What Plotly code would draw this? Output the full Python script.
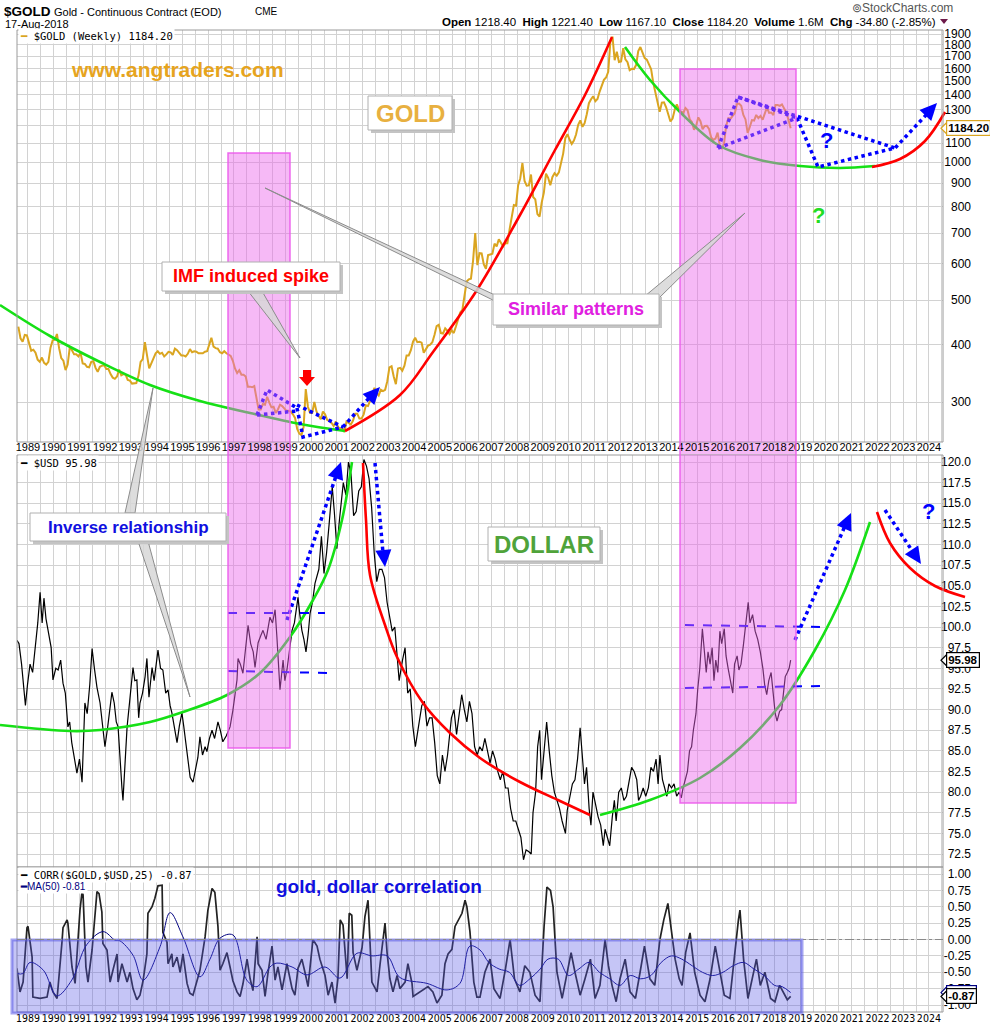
import math
import plotly.graph_objects as go

W, H = 990, 1029

# ------------------------------------------------------------------ data
GOLD_FIRST_YEAR, GOLD_FIRST_MONTH = 1988, 8
GOLD_MONTHLY = [
    438, 413, 406, 420, 419,
    404, 388, 390, 384, 371, 367, 375, 365, 362, 367, 394, 409,
    410, 422, 393, 374, 369, 352, 362, 395, 389, 381, 381, 377,
    384, 364, 363, 358, 357, 367, 368, 356, 349, 358, 360, 361,
    354, 354, 345, 339, 337, 341, 353, 343, 345, 344, 335, 334,
    329, 330, 330, 342, 367, 372, 405, 379, 355, 364, 373, 383,
    387, 382, 384, 377, 381, 386, 385, 380, 392, 389, 384, 379,
    379, 377, 382, 391, 385, 387, 386, 383, 383, 383, 386, 387,
    400, 414, 396, 393, 392, 385, 383, 387, 383, 381, 378, 369,
    355, 347, 352, 344, 344, 341, 324, 324, 323, 325, 306, 289,
    289, 297, 296, 308, 299, 292, 293, 284, 289, 296, 294, 291,
    287, 287, 286, 282, 277, 262, 256, 254, 265, 320, 293, 284,
    284, 300, 286, 280, 275, 286, 282, 274, 273, 270, 266, 272,
    265, 262, 263, 258, 272, 270, 268, 273, 283, 283, 276, 276,
    282, 295, 294, 302, 314, 322, 314, 310, 319, 317, 319, 333,
    357, 359, 341, 328, 355, 356, 351, 360, 379, 379, 389, 406,
    414, 405, 406, 404, 384, 392, 398, 400, 405, 420, 439, 442,
    424, 423, 434, 429, 422, 430, 424, 438, 456, 470, 476, 510,
    549, 555, 557, 610, 700, 596, 633, 632, 598, 585, 627, 629,
    631, 664, 655, 679, 667, 655, 665, 665, 712, 754, 806, 803,
    889, 922, 995, 909, 888, 889, 939, 839, 829, 770, 760, 816,
    858, 943, 924, 890, 928, 945, 934, 949, 996, 1043, 1127, 1150,
    1118, 1095, 1113, 1148, 1205, 1232, 1193, 1215, 1271, 1343, 1370, 1391,
    1356, 1372, 1424, 1474, 1510, 1528, 1572, 1826, 1875, 1666, 1739, 1652,
    1656, 1770, 1673, 1650, 1585, 1596, 1594, 1626, 1744, 1780, 1721, 1684,
    1671, 1627, 1593, 1487, 1414, 1343, 1286, 1347, 1349, 1316, 1275, 1225,
    1244, 1300, 1336, 1299, 1287, 1279, 1311, 1296, 1239, 1222, 1176, 1200,
    1251, 1227, 1179, 1198, 1199, 1181, 1131, 1117, 1125, 1159, 1086, 1068,
    1097, 1200, 1246, 1242, 1260, 1276, 1337, 1341, 1326, 1266, 1238, 1157,
    1192, 1234, 1231, 1266, 1246, 1260, 1236, 1283, 1315, 1280, 1282, 1265,
    1331, 1331, 1325, 1335, 1303, 1282, 1238, 1184.2,
]

USD_T = [
    1988.57, 1988.65, 1988.75, 1988.85, 1988.9, 1988.98, 1989.08, 1989.18, 1989.28, 1989.38,
    1989.47, 1989.55, 1989.62, 1989.7, 1989.78, 1989.9, 1989.97, 1990.08, 1990.17, 1990.27,
    1990.36, 1990.45, 1990.55, 1990.62, 1990.7, 1990.8, 1990.9, 1991.0, 1991.1, 1991.21,
    1991.3, 1991.4, 1991.49, 1991.58, 1991.68, 1991.8, 1991.9, 1991.99, 1992.1, 1992.18,
    1992.26, 1992.35, 1992.43, 1992.5, 1992.58, 1992.65, 1992.69, 1992.75, 1992.85, 1992.95,
    1993.08, 1993.15, 1993.23, 1993.3, 1993.35, 1993.45, 1993.55, 1993.62, 1993.7, 1993.82,
    1993.9, 1994.05, 1994.15, 1994.24, 1994.35, 1994.44, 1994.52, 1994.59, 1994.7, 1994.79,
    1994.88, 1994.98, 1995.05, 1995.1, 1995.2, 1995.3, 1995.41, 1995.5, 1995.6, 1995.68,
    1995.78, 1995.88, 1995.95, 1996.05, 1996.15, 1996.25, 1996.38, 1996.47, 1996.57, 1996.7,
    1996.85, 1996.96, 1997.05, 1997.12, 1997.16, 1997.25, 1997.35, 1997.45, 1997.55, 1997.65,
    1997.75, 1997.82, 1997.94, 1998.05, 1998.13, 1998.25, 1998.4, 1998.5, 1998.6, 1998.67,
    1998.79, 1998.91, 1998.98, 1999.06, 1999.15, 1999.26, 1999.35, 1999.49, 1999.56, 1999.64,
    1999.72, 1999.8, 1999.88, 1999.96, 2000.05, 2000.15, 2000.3, 2000.4, 2000.5, 2000.6,
    2000.7, 2000.82, 2000.9, 2001.0, 2001.1, 2001.25, 2001.35, 2001.45, 2001.55, 2001.65,
    2001.75, 2001.85, 2001.95, 2002.05, 2002.15, 2002.25, 2002.35, 2002.45, 2002.55, 2002.65,
    2002.75, 2002.85, 2002.95, 2003.05, 2003.15, 2003.25, 2003.35, 2003.42, 2003.55, 2003.65,
    2003.75, 2003.85, 2003.95, 2004.05, 2004.15, 2004.3, 2004.4, 2004.5, 2004.6, 2004.7,
    2004.8, 2004.9, 2005.0, 2005.1, 2005.2, 2005.3, 2005.45, 2005.55, 2005.65, 2005.75,
    2005.85, 2005.95, 2006.05, 2006.15, 2006.25, 2006.35, 2006.45, 2006.55, 2006.65, 2006.75,
    2006.85, 2006.95, 2007.05, 2007.15, 2007.25, 2007.35, 2007.45, 2007.55, 2007.65, 2007.75,
    2007.85, 2007.95, 2008.05, 2008.15, 2008.25, 2008.35, 2008.45, 2008.55, 2008.62, 2008.72,
    2008.8, 2008.88, 2008.95, 2009.05, 2009.15, 2009.25, 2009.35, 2009.45, 2009.55, 2009.65,
    2009.75, 2009.88, 2009.95, 2010.05, 2010.15, 2010.25, 2010.35, 2010.45, 2010.55, 2010.62,
    2010.7, 2010.8, 2010.87, 2010.95, 2011.05, 2011.15, 2011.25, 2011.35, 2011.42, 2011.5,
    2011.6, 2011.7, 2011.78, 2011.85, 2011.95, 2012.05, 2012.15, 2012.25, 2012.35, 2012.45,
    2012.55, 2012.65, 2012.72, 2012.8, 2012.9, 2013.0, 2013.1, 2013.2, 2013.3, 2013.4,
    2013.48, 2013.55, 2013.65, 2013.75, 2013.82, 2013.9, 2014.0, 2014.1, 2014.2, 2014.3,
    2014.38, 2014.45, 2014.55, 2014.62, 2014.7, 2014.78, 2014.85, 2014.95, 2015.02, 2015.1,
    2015.2, 2015.28, 2015.35, 2015.42, 2015.5, 2015.58, 2015.65, 2015.72, 2015.8, 2015.88,
    2015.95, 2016.05, 2016.12, 2016.2, 2016.3, 2016.38, 2016.45, 2016.55, 2016.62, 2016.7,
    2016.8, 2016.9, 2016.98, 2017.05, 2017.15, 2017.25, 2017.35, 2017.45, 2017.55, 2017.62,
    2017.7, 2017.78, 2017.87, 2017.95, 2018.03, 2018.1, 2018.2, 2018.28, 2018.35, 2018.42,
    2018.5, 2018.57, 2018.63,
]
USD_V = [
    98.4, 98.0, 95.5, 91.5, 90.5, 93.0, 95.5, 94.5, 97.5, 100.5,
    104.2, 100.5, 103.5, 101.0, 99.6, 97.5, 93.6, 95.0, 94.8, 96.0,
    93.2, 92.0, 87.9, 88.5, 86.0, 84.0, 82.3, 84.0, 81.2, 90.8,
    89.5, 93.0, 97.4, 95.0, 92.7, 90.8, 87.5, 85.5, 88.0, 90.5,
    92.1, 90.8, 88.5, 87.9, 83.0, 80.5, 79.0, 82.5, 87.9, 91.0,
    95.1, 93.5, 93.6, 89.0, 90.8, 92.0, 94.0, 96.2, 91.5, 95.1,
    93.5, 97.2, 95.0, 94.8, 92.0, 92.4, 90.5, 89.6, 87.5, 86.0,
    88.0, 89.6, 88.0, 86.7, 84.0, 81.8, 81.2, 82.5, 84.2, 86.7,
    84.5, 85.5, 84.9, 86.5, 87.5, 86.5, 88.5, 87.5, 86.1, 86.8,
    87.9, 89.9, 92.0, 93.6, 96.2, 95.5, 94.4, 97.0, 100.2, 98.0,
    97.0, 95.1, 98.1, 99.0, 99.6, 98.5, 101.2, 100.5, 102.1, 98.8,
    92.4, 96.0, 93.5, 94.8, 97.0, 99.6, 100.5, 103.6, 101.5, 99.6,
    98.5, 97.0, 99.0, 101.7, 103.0, 105.3, 107.0, 111.0, 106.5, 109.0,
    112.5, 117.0, 114.0, 109.5, 113.0, 117.5, 116.0, 120.0, 118.5, 113.5,
    114.0, 116.5, 117.0, 120.3, 119.5, 118.0, 114.5, 109.0, 105.5, 107.0,
    107.0, 106.0, 103.0, 101.0, 99.5, 100.0, 96.5, 93.5, 96.0, 97.5,
    92.0, 92.5, 88.0, 85.5, 87.5, 90.5, 91.0, 88.0, 89.0, 89.0,
    86.0, 82.0, 81.0, 84.5, 82.5, 84.5, 89.0, 90.0, 87.0, 89.5,
    91.8, 90.0, 88.5, 91.0, 89.5, 85.5, 84.5, 85.5, 85.0, 86.5,
    85.0, 83.5, 85.0, 84.0, 82.5, 81.5, 82.5, 80.5, 80.5, 78.0,
    76.5, 76.5, 75.5, 74.5, 71.8, 73.0, 72.8, 72.5, 77.5, 80.0,
    85.5, 87.5, 81.5, 85.5, 88.5, 85.0, 82.0, 80.0, 79.0, 78.0,
    76.5, 75.0, 77.8, 79.5, 81.0, 81.5, 84.0, 87.8, 84.0, 81.0,
    83.0, 78.0, 76.0, 80.0, 78.5, 77.0, 76.0, 73.5, 75.5, 74.5,
    73.5, 77.0, 79.0, 76.5, 80.0, 80.5, 79.0, 79.5, 81.5, 83.0,
    82.5, 81.5, 79.0, 79.5, 80.5, 79.5, 80.5, 83.0, 82.5, 84.0,
    81.0, 84.5, 81.5, 80.5, 79.5, 81.0, 80.5, 81.0, 79.5, 80.0,
    79.3, 80.5, 81.5, 82.5, 85.0, 85.5, 87.5, 89.5, 92.5, 95.0,
    99.8, 97.0, 94.5, 97.0, 95.5, 97.5, 93.5, 96.0, 94.5, 99.5,
    98.0, 99.8, 96.5, 95.0, 93.5, 92.0, 95.5, 96.5, 94.8, 95.5,
    98.0, 101.0, 103.0, 100.5, 101.5, 99.5, 98.5, 97.0, 95.0, 93.0,
    91.8, 93.5, 94.5, 92.0, 89.5, 88.6, 89.8, 90.0, 92.5, 94.0,
    94.5, 95.0, 95.98,
]

CORR_T = [
    1988.57, 1988.69, 1988.81, 1988.96, 1989.0, 1989.16, 1989.19, 1989.47, 1989.74, 1989.85,
    1989.97, 1990.13, 1990.32, 1990.36, 1990.52, 1990.55, 1990.71, 1990.83, 1991.02, 1991.1,
    1991.14, 1991.25, 1991.33, 1991.49, 1991.68, 1991.76, 1991.87, 1991.91, 1992.07, 1992.19,
    1992.3, 1992.46, 1992.5, 1992.65, 1992.85, 1992.96, 1993.08, 1993.23, 1993.35, 1993.47,
    1993.62, 1993.66, 1993.82, 1993.93, 1994.05, 1994.21, 1994.24, 1994.4, 1994.44, 1994.59,
    1994.63, 1994.79, 1994.91, 1995.02, 1995.18, 1995.29, 1995.41, 1995.57, 1995.68, 1995.88,
    1995.99, 1996.15, 1996.26, 1996.38, 1996.46, 1996.57, 1996.73, 1996.85, 1996.96, 1997.12,
    1997.24, 1997.35, 1997.51, 1997.63, 1997.74, 1997.9, 1997.94, 1998.09, 1998.21, 1998.32,
    1998.48, 1998.6, 1998.71, 1998.87, 1999.06, 1999.26, 1999.37, 1999.49, 1999.64, 1999.76,
    1999.88, 2000.07, 2000.23, 2000.34, 2000.54, 2000.66, 2000.81, 2000.93, 2001.04, 2001.13,
    2001.24, 2001.4, 2001.48, 2001.58, 2001.63, 2001.78, 2001.98, 2002.09, 2002.21, 2002.36,
    2002.56, 2002.68, 2002.87, 2002.95, 2003.06, 2003.18, 2003.34, 2003.45, 2003.65, 2003.76,
    2003.92, 2003.96, 2004.15, 2004.35, 2004.54, 2004.73, 2004.89, 2005.08, 2005.2, 2005.32,
    2005.47, 2005.59, 2005.71, 2005.86, 2005.98, 2006.05, 2006.17, 2006.32, 2006.44, 2006.56,
    2006.75, 2006.95, 2007.1, 2007.34, 2007.55, 2007.73, 2007.9, 2008.11, 2008.3, 2008.5,
    2008.7, 2008.89, 2009.05, 2009.16, 2009.3, 2009.4, 2009.55, 2009.75, 2009.9, 2010.1,
    2010.25, 2010.45, 2010.64, 2010.85, 2011.03, 2011.22, 2011.42, 2011.55, 2011.69, 2011.85,
    2012.0, 2012.2, 2012.39, 2012.6, 2012.78, 2012.95, 2013.16, 2013.35, 2013.55, 2013.7,
    2013.86, 2014.0, 2014.14, 2014.3, 2014.41, 2014.55, 2014.72, 2014.9, 2015.11, 2015.3,
    2015.5, 2015.7, 2015.88, 2016.05, 2016.27, 2016.45, 2016.6, 2016.66, 2016.8, 2016.97,
    2017.15, 2017.3, 2017.45, 2017.63, 2017.85, 2018.02, 2018.2, 2018.41, 2018.5, 2018.63,
]
CORR_V = [
    -0.44, -0.80, -0.65, 0.18, 0.20, -0.27, -0.88, -0.90, -0.88, -0.65,
    -0.80, -0.90, -0.04, 0.18, 0.30, 0.25, -0.42, -0.67, 0.45, 0.73,
    0.68, -0.42, -0.65, -0.16, 0.73, 0.70, 0.42, -0.06, -0.16, -0.65,
    -0.47, -0.22, -0.65, -0.37, -0.65, -0.50, -0.75, -0.92, -0.85, -0.63,
    -0.22, 0.40, 0.50, 0.63, 0.82, 0.83, 0.11, -0.04, -0.37, -0.22,
    -0.42, -0.27, -0.50, -0.22, -0.67, -0.82, -0.85, -0.60, -0.47, 0.04,
    0.45, 0.78, 0.72, 0.20, -0.47, -0.37, -0.20, -0.42, -0.63, -0.80,
    -0.87, -0.68, -0.30, -0.60, -0.78, 0.04, -0.37, -0.47, -0.87, -0.52,
    -0.10, -0.62, -0.42, -0.77, -0.37, -0.75, -0.85, -0.44, -0.30, -0.50,
    -0.72, 0.00, -0.10, -0.30, -0.55, -0.85, -0.65, -0.97, -0.60, 0.30,
    0.22, -0.60, 0.40, 0.37, -0.20, -0.47, -0.12, 0.35, 0.60, -0.65,
    -0.80, -0.37, 0.25, -0.20, -0.60, -0.80, -0.55, -0.75, -0.65, -0.37,
    -0.67, -0.87, -0.82, -0.78, -0.72, -0.80, -0.97, -0.85, -0.37, -0.22,
    -0.15, 0.20, 0.30, 0.40, 0.60, 0.50, 0.12, -0.65, -0.88, -0.88,
    -0.50, -0.30, -0.75, -0.90, -0.45, 0.00, -0.60, -0.80, -0.40, -0.50,
    -0.85, -0.95, 0.20, 0.80, 0.75, 0.50, -0.50, -0.90, -0.60, -0.20,
    -0.50, -0.85, -0.60, -0.30, -0.90, -0.70, 0.00, -0.40, -0.70, -0.95,
    -0.60, -0.30, -0.80, -0.90, -0.50, -0.10, -0.60, -0.70, 0.00, 0.30,
    0.55, 0.10, -0.30, -0.60, -0.70, -0.20, 0.10, -0.50, -0.85, -0.95,
    -0.60, -0.10, -0.50, -0.85, -0.90, -0.20, 0.30, 0.45, -0.30, -0.90,
    -0.60, -0.30, -0.70, -0.50, -0.90, -0.95, -0.70, -0.85, -0.92, -0.87,
]

MA_T = [
    1988.57, 1988.8, 1989.08, 1989.6, 1990.12, 1990.7, 1991.28, 1991.92, 1992.38, 1992.57,
    1993.08, 1993.47, 1994.13, 1994.52, 1995.02, 1995.68, 1996.07, 1996.46, 1996.96, 1997.5,
    1997.9, 1998.4, 1998.67, 1999.26, 1999.84, 2000.54, 2001.12, 2001.78, 2002.36, 2002.95,
    2003.45, 2004.5, 2005.28, 2005.78, 2006.17, 2006.56, 2006.9, 2007.3, 2007.7, 2008.1,
    2008.5, 2008.9, 2009.2, 2009.6, 2010.0, 2010.4, 2010.8, 2011.2, 2011.6, 2012.0,
    2012.4, 2012.8, 2013.2, 2013.6, 2014.0, 2014.4, 2014.8, 2015.2, 2015.6, 2016.0,
    2016.4, 2016.8, 2017.2, 2017.6, 2018.0, 2018.3, 2018.63,
]
MA_V = [
    -0.52, -0.52, -0.35, -0.47, -0.86, -0.62, -0.08, 0.12, -0.01, -0.02,
    -0.24, -0.62, -0.11, 0.41, 0.04, -0.57, -0.30, 0.02, 0.07, -0.62,
    -0.72, -0.42, -0.36, -0.42, -0.54, -0.42, -0.59, -0.21, -0.25, -0.25,
    -0.58, -0.67, -0.77, -0.67, -0.10, -0.16, -0.35, -0.45, -0.50, -0.70,
    -0.60, -0.45, -0.30, -0.30, -0.55, -0.45, -0.35, -0.50, -0.60, -0.70,
    -0.55, -0.60, -0.55, -0.35, -0.25, -0.30, -0.40, -0.50, -0.55, -0.50,
    -0.40, -0.35, -0.45, -0.55, -0.70, -0.72, -0.81,
]

YEARS = list(range(1989, 2025))
GOLD_TICKS = [300, 400, 500, 600, 700, 800, 900, 1000, 1100, 1200, 1300, 1400, 1500, 1600, 1700, 1800, 1900]
USD_TICKS = [72.5, 75.0, 77.5, 80.0, 82.5, 85.0, 87.5, 90.0, 92.5, 95.0, 97.5, 100.0,
             102.5, 105.0, 107.5, 110.0, 112.5, 115.0, 117.5, 120.0]
CORR_TICKS = [-1.0, -0.75, -0.5, -0.25, 0.0, 0.25, 0.5, 0.75, 1.0]

LAST_GOLD, LAST_USD, LAST_CORR, LAST_MA = 1184.20, 95.98, -0.87, -0.81

gold_t = [GOLD_FIRST_YEAR + (GOLD_FIRST_MONTH - 1 + i + 0.5) / 12 for i in range(len(GOLD_MONTHLY))]
gold_t[-1] = 2018.63

# ------------------------------------------------------------------ geometry
X_PIX = (17, 943)
TOP, MID, BOT = (30, 442), (455, 867), (867, 1012)
XR = [1988.573, 2024.548]
GOLD_R = [3 - (442 - 162) / 459, 3 + (162 - 30) / 459]
USD_R = [120 - (867 - 462) / 8.2526, 120 + (462 - 455) / 8.2526]
CORR_R = [1 - (1012 - 874) / 65.5, 1 + (874 - 867) / 65.5]


def PX(x):
    return x / W


def PY(y):
    return 1 - y / H


def ydom(p):
    return [PY(p[1]), PY(p[0])]


GRID = "#d2d2d2"
FONT = "Liberation Sans, Arial, sans-serif"
GOLDC = "#DAA520"

fig = go.Figure()
fig.add_trace(go.Scatter(x=gold_t, y=GOLD_MONTHLY, mode="lines", line=dict(color=GOLDC, width=2),
                         xaxis="x", yaxis="y", hoverinfo="skip"))
fig.add_trace(go.Scatter(x=USD_T, y=USD_V, mode="lines", line=dict(color="black", width=1.2),
                         xaxis="x2", yaxis="y2", hoverinfo="skip"))
fig.add_trace(go.Scatter(x=CORR_T, y=CORR_V, mode="lines", line=dict(color="#222222", width=1.7),
                         xaxis="x3", yaxis="y3", hoverinfo="skip"))
fig.add_trace(go.Scatter(x=MA_T, y=MA_V, mode="lines", line=dict(color="#000080", width=1, shape="spline"),
                         xaxis="x3", yaxis="y3", hoverinfo="skip"))

# ---------------------------------------------------------------- overlays (pixel space axis)
OV = dict(xaxis="x4", yaxis="y4", hoverinfo="skip", mode="lines")


def curve(pts, color, width=2.6, dash=None, shape="spline"):
    fig.add_trace(go.Scatter(x=[p[0] for p in pts], y=[p[1] for p in pts],
                             line=dict(color=color, width=width, dash=dash, shape=shape), **OV))


GREEN, RED, BLUE = "#16e016", "#ff0000", "#0000ff"
curve([(0, 305), (50, 336), (100, 362), (150, 385), (200, 401), (250, 413), (300, 424), (345, 431)], GREEN)
curve([(345, 431), (400, 395), (433, 352), (477, 290), (520, 215), (555, 150), (585, 95), (612, 37)], RED)
curve([(625, 47), (650, 80), (680, 112), (718, 145), (760, 160), (800, 166), (840, 168), (875, 166)], GREEN)
curve([(872, 167), (900, 159), (925, 141), (945, 112)], RED)
curve([(0, 725), (70, 731), (100, 730), (150, 722), (183, 712), (227, 695), (260, 673), (290, 637),
       (313, 600), (328, 570), (342, 520), (352, 462)], GREEN)
curve([(363, 463), (366, 520), (370, 575), (385, 625), (397, 657), (423, 703), (450, 733), (480, 758),
       (520, 782), (560, 801), (590, 815)], RED)
curve([(600, 815), (650, 800), (700, 778), (740, 748), (780, 705), (815, 650), (845, 590), (870, 522)], GREEN)
curve([(877, 512), (890, 543), (910, 568), (935, 586), (965, 597)], RED)

DOT = dict(color=BLUE, width=3.5, dash="dot", shape="linear")
for seg in [
    [(257, 415), (267, 390), (297, 408)], [(257, 415), (297, 411)],
    [(297, 408), (303, 437), (343, 427)], [(297, 405), (343, 427)], [(343, 427), (370, 397)],
    [(718, 148), (738, 97), (797, 118)], [(718, 148), (797, 118)], [(738, 97), (895, 148)],
    [(797, 118), (818, 167), (895, 148), (928, 113)],
    [(287, 620), (336, 476)], [(375, 463), (383, 553)], [(795, 640), (845, 526)], [(885, 510), (913, 552)],
]:
    fig.add_trace(go.Scatter(x=[p[0] for p in seg], y=[p[1] for p in seg], line=DOT, **OV))
for seg in [[(228, 613), (325, 613)], [(228, 671), (328, 673)], [(685, 625), (820, 627)], [(685, 688), (826, 686)]]:
    fig.add_trace(go.Scatter(x=[p[0] for p in seg], y=[p[1] for p in seg],
                             line=dict(color=BLUE, width=2, dash="dash"), **OV))

shapes = []
annos = []


def path(pts, close=True):
    s = "M " + " L ".join(f"{PX(x):.5f},{PY(y):.5f}" for x, y in pts)
    return s + (" Z" if close else "")


def poly(pts, fill, line="rgba(0,0,0,0)", lw=0, layer="above"):
    shapes.append(dict(type="path", xref="paper", yref="paper", path=path(pts), fillcolor=fill,
                       line=dict(color=line, width=lw), layer=layer))


def rect(x0, y0, x1, y1, fill="rgba(0,0,0,0)", line="rgba(0,0,0,0)", lw=0, layer="above"):
    shapes.append(dict(type="rect", xref="paper", yref="paper", x0=PX(x0), x1=PX(x1), y0=PY(y1), y1=PY(y0),
                       fillcolor=fill, line=dict(color=line, width=lw), layer=layer))


def head(tip, frm, L=17, w=8, color=BLUE):
    dx, dy = tip[0] - frm[0], tip[1] - frm[1]
    n = math.hypot(dx, dy)
    ux, uy = dx / n, dy / n
    bx, by = tip[0] - ux * L, tip[1] - uy * L
    poly([tip, (bx - uy * w, by + ux * w), (bx + uy * w, by - ux * w)], color)


def text(x, y, s, size=12, color="black", xanchor="left", yanchor="middle", family=FONT, bg=None, **kw):
    d = dict(x=PX(x), y=PY(y), xref="paper", yref="paper", text=s, showarrow=False, xanchor=xanchor,
             yanchor=yanchor, font=dict(size=size, color=color, family=family))
    if bg:
        d["bgcolor"] = bg
    d.update(kw)
    annos.append(d)


# panel borders
for p in (TOP, MID, BOT):
    rect(X_PIX[0], p[0], X_PIX[1], p[1], line="#9a9a9a", lw=1)

# pink highlight boxes (fill above data inside panels, below the tick-label band)
PINK_F, PINK_L = "rgba(236,100,236,0.45)", "rgba(236,90,236,0.9)"
for x0, x1, ytop, ybot in [(228, 290, 153, 748), (680, 796, 69, 803)]:
    rect(x0, ytop, x1, TOP[1], fill=PINK_F)
    rect(x0, TOP[1], x1, MID[0], fill=PINK_F, layer="below")
    rect(x0, MID[0], x1, ybot, fill=PINK_F)
    rect(x0, ytop, x1, ybot, line=PINK_L, lw=1.5)
# lavender box
rect(12, 940, 802, 1013, fill="rgba(90,90,230,0.35)", line="rgba(90,90,230,0.55)", lw=3)
# zero line bottom
shapes.append(dict(type="line", xref="paper", yref="y3", x0=PX(17), x1=PX(943), y0=0, y1=0,
                   line=dict(color="#8a8a8a", width=1, dash="dashdot"), layer="above"))

# arrowheads
head((380, 387), (343, 427))
head((341, 462), (287, 620))
head((385, 567), (375, 463))
head((851, 513), (795, 640))
head((921, 564), (885, 510))
head((937, 103), (895, 148))
# red block arrow
poly([(303, 370), (311, 370), (311, 377), (315, 377), (307, 386), (299, 377), (303, 377)], RED)

# callout wedges
WEDGE_F, WEDGE_L = "rgba(215,215,215,0.85)", "#8c8c8c"
poly([(300, 358), (248, 291), (262, 291)], WEDGE_F, WEDGE_L, 1)
poly([(265, 188), (497, 296), (503, 305)], WEDGE_F, WEDGE_L, 1)
poly([(745, 213), (645, 296), (655, 302)], WEDGE_F, WEDGE_L, 1)
poly([(153, 388), (125, 513), (135, 513)], WEDGE_F, WEDGE_L, 1)
poly([(190, 697), (138, 541), (148, 541)], WEDGE_F, WEDGE_L, 1)


def box(x0, y0, x1, y1, s, color, size):
    rect(x0 + 3, y0 + 3, x1 + 3, y1 + 3, fill="#c4c4c4")
    rect(x0, y0, x1, y1, fill="white", line="#b0b0b0", lw=1)
    text((x0 + x1) / 2, (y0 + y1) / 2, f"<b>{s}</b>", size=size, color=color, xanchor="center")


box(368, 96, 452, 130, "GOLD", "#E8B040", 24)
box(162, 262, 340, 291, "IMF induced spike", RED, 18)
box(493, 294, 659, 325, "Similar patterns", "#E020E0", 18)
box(30, 513, 226, 541, "Inverse relationship", "#1010E0", 17)
box(488, 527, 600, 561, "DOLLAR", "#4FA33A", 24)

text(177, 70, "<b>www.angtraders.com</b>", size=21, color="#E6A41E", xanchor="center")
text(379, 886, "<b>gold, dollar correlation</b>", size=19, color="#1010E0", xanchor="center")
text(826, 140, "<b>?</b>", size=22, color=BLUE, xanchor="center")
text(818, 216, "<b>?</b>", size=22, color="#22dd22", xanchor="center")
text(928, 511, "<b>?</b>", size=22, color=BLUE, xanchor="center")

# header
text(2, 11, "<b>$GOLD</b>", size=13.5)
text(52, 12, "Gold - Continuous Contract (EOD)", size=11)
text(253, 12, "CME", size=10)
text(3, 24, "17-Aug-2018", size=11)
text(955, 8, "⊚StockCharts.com", size=12, color="#555555", xanchor="right")
text(938, 22, "<b>Open</b> 1218.40  <b>High</b> 1221.40  <b>Low</b> 1167.10  <b>Close</b> 1184.20  "
     "<b>Volume</b> 1.6M  <b>Chg</b> -34.80 (-2.85%)", size=11.5, xanchor="right")
poly([(940, 19), (948, 19), (944, 24)], "#6d1a4a")

# legends
MONO = "DejaVu Sans Mono, monospace"
text(18, 36, f"<span style='color:{GOLDC}'><b>━</b></span> $GOLD (Weekly) {LAST_GOLD:.2f}", size=10.5,
     family=MONO, bg="white")
text(18, 463, f"<b>━</b> $USD {LAST_USD:.2f}", size=10.5, family=MONO, bg="white")
text(18, 875, f"<b>━</b> CORR($GOLD,$USD,25) {LAST_CORR:.2f}", size=10.5, family=MONO, bg="white")
text(18, 886, f"<span style='color:#000080'><b>━</b>MA(50) {LAST_MA:.2f}</span>", size=10,
     color="#000080", bg="white")


# right value tags: boxed labels with a small left-pointing notch; later tags cover earlier ones
def tag(yp, s, border, size=11.5):
    poly([(941, yp), (947, yp - 6), (947, yp + 6)], "white", border, 1.2)
    text(946, yp, f"<b>{s}</b>", size=size, xanchor="left", bg="white", bordercolor=border,
         borderwidth=1.2, borderpad=1)


def gold_y(v):
    return 162 - 459 * (math.log10(v) - 3)


tag(gold_y(LAST_GOLD), f"{LAST_GOLD:.2f}", GOLDC)
tag(462 + (120 - LAST_USD) * 8.2526, f"{LAST_USD:.2f}", "black")
tag(874 + (1 - LAST_MA) * 65.5, f"{LAST_MA:.2f}", "#000080")
tag(874 + (1 - LAST_CORR) * 65.5, f"{LAST_CORR:.2f}", "black")

# ------------------------------------------------------------------ axes
xcommon = dict(range=XR, tickmode="linear", tick0=1989, dtick=1, tickformat="d", showgrid=True,
               gridcolor=GRID, gridwidth=1, zeroline=False, showline=False, ticks="", automargin=False,
               tickangle=0, ticklen=0,
               minor=dict(tick0=1988.5, dtick=0.5, showgrid=True, gridcolor=GRID, gridwidth=1),
               domain=[PX(X_PIX[0]), PX(X_PIX[1])], fixedrange=True)
ycommon = dict(side="left", anchor="free", position=PX(971), showgrid=True, gridcolor=GRID, gridwidth=1,
               zeroline=False, showline=False, ticks="", automargin=False,
               tickfont=dict(size=12, family=FONT, color="black"), fixedrange=True)

layout = dict(
    template="none",
    width=W, height=H, margin=dict(l=0, r=0, t=0, b=0, autoexpand=False), paper_bgcolor="white",
    plot_bgcolor="rgba(0,0,0,0)", showlegend=False,
    xaxis=dict(xcommon, anchor="y", tickfont=dict(size=11, family=FONT, color="black"), ticklabelstandoff=-3),
    xaxis2=dict(xcommon, anchor="y2", showticklabels=False, matches="x"),
    xaxis3=dict(xcommon, anchor="y3", matches="x", ticklabelstandoff=-2,
                tickfont=dict(size=10.5, family="Liberation Sans Narrow, DejaVu Sans Condensed, Liberation Sans",
                              color="black")),
    yaxis=dict(ycommon, type="log", range=GOLD_R, domain=ydom(TOP), tickmode="array", tickvals=GOLD_TICKS,
               ticktext=["" if v == 1200 else str(v) for v in GOLD_TICKS]),
    yaxis2=dict(ycommon, range=USD_R, domain=ydom(MID), tickmode="array", tickvals=USD_TICKS,
                ticktext=[f"{v:.1f}" for v in USD_TICKS]),
    yaxis3=dict(ycommon, range=CORR_R, domain=ydom(BOT), tickmode="array", tickvals=CORR_TICKS,
                ticktext=[f"{v:.2f}" for v in CORR_TICKS]),
    xaxis4=dict(range=[0, W], domain=[0, 1], visible=False, anchor="y4", fixedrange=True, automargin=False),
    yaxis4=dict(range=[H, 0], domain=[0, 1], visible=False, anchor="x4", fixedrange=True, automargin=False),
    shapes=shapes, annotations=annos,
)
fig.update_layout(**layout)
fig.write_html("out.html")
